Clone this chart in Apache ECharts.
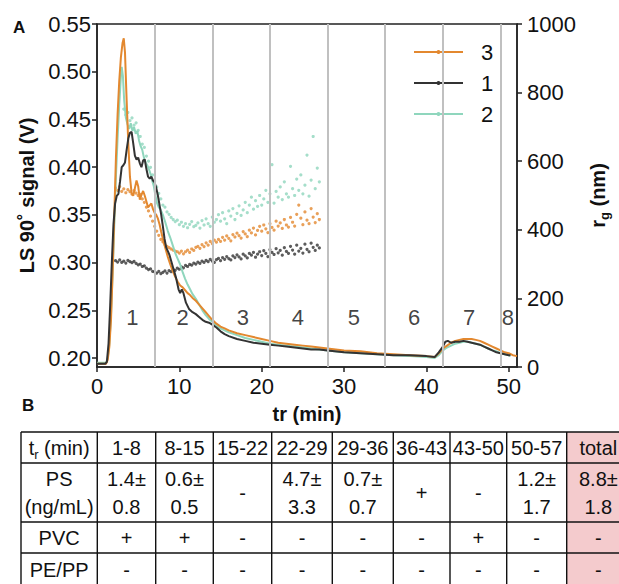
<!DOCTYPE html>
<html><head><meta charset="utf-8">
<script src="https://cdn.jsdelivr.net/npm/echarts@6/dist/echarts.min.js"></script>
<style>html,body{margin:0;padding:0;background:#fff}#c{width:619px;height:584px}</style>
</head><body><div id="c"></div>
<script>
// ---------- data ----------
const xTicks = [0, 10, 20, 30, 40, 50];
const leftTicks = [0.20, 0.25, 0.30, 0.35, 0.40, 0.45, 0.50, 0.55];
const rightTicks = [0, 200, 400, 600, 800, 1000];
const fractionBounds = [7, 14, 21, 28, 35, 42, 49];
const fractionNames = ['1', '2', '3', '4', '5', '6', '7', '8'];
const fractionLabelX = [4.3, 10.4, 17.7, 24.4, 31.2, 38.5, 45.2, 49.9];
const fractionLabelY = 0.242;
const legendOrder = ['3', '1', '2'];

// LS 90° signal (V) for samples 1, 2, 3: [tr, V]
const ls1 = [[0,0.194],[1.0,0.194],[1.2,0.196],[1.4,0.215],[1.6,0.255],[1.8,0.30],[2.0,0.34],[2.2,0.362],[2.4,0.37],[2.6,0.372],[2.8,0.385],[3.0,0.40],[3.2,0.402],[3.4,0.405],[3.6,0.418],[3.8,0.43],[4.0,0.436],[4.2,0.437],[4.4,0.425],[4.6,0.412],[4.8,0.408],[5.0,0.41],[5.2,0.404],[5.4,0.40],[5.6,0.407],[5.8,0.408],[6.0,0.398],[6.2,0.39],[6.4,0.388],[6.6,0.39],[6.8,0.386],[7.0,0.384],[7.2,0.378],[7.4,0.37],[7.6,0.36],[7.8,0.35],[8.0,0.338],[8.2,0.325],[8.4,0.316],[8.6,0.312],[8.8,0.308],[9.0,0.302],[9.2,0.296],[9.4,0.29],[9.6,0.284],[9.9,0.272],[10.1,0.268],[10.3,0.272],[10.5,0.268],[10.8,0.258],[11.2,0.251],[11.6,0.248],[12.0,0.246],[12.4,0.243],[12.8,0.24],[13.2,0.238],[13.6,0.237],[14.0,0.235],[14.5,0.232],[15,0.228],[15.5,0.225],[16,0.223],[17,0.22],[18,0.218],[19,0.216],[20,0.215],[21,0.214],[22,0.213],[23,0.212],[24,0.211],[25,0.21],[26,0.209],[27,0.209],[28,0.208],[30,0.206],[32,0.205],[34,0.204],[36,0.203],[38,0.203],[40,0.202],[41,0.201],[41.5,0.206],[42,0.212],[42.3,0.217],[42.6,0.218],[43,0.216],[43.5,0.217],[44,0.217],[44.5,0.218],[45,0.217],[45.5,0.216],[46,0.215],[46.5,0.214],[47,0.212],[47.5,0.21],[48,0.208],[48.5,0.206],[49,0.205],[49.5,0.204],[50,0.203],[50.2,0.203]];
const ls2 = [[0,0.195],[1.1,0.195],[1.3,0.2],[1.5,0.215],[1.7,0.245],[1.9,0.29],[2.1,0.34],[2.3,0.39],[2.5,0.43],[2.7,0.465],[2.9,0.495],[3.0,0.505],[3.15,0.495],[3.3,0.47],[3.5,0.452],[3.7,0.445],[3.9,0.44],[4.1,0.446],[4.3,0.438],[4.5,0.442],[4.7,0.435],[4.9,0.438],[5.1,0.428],[5.3,0.422],[5.5,0.418],[5.7,0.41],[5.9,0.405],[6.1,0.402],[6.3,0.398],[6.5,0.393],[6.7,0.386],[6.9,0.38],[7.1,0.37],[7.3,0.362],[7.5,0.358],[7.7,0.356],[8.0,0.35],[8.3,0.342],[8.6,0.333],[8.9,0.326],[9.2,0.318],[9.5,0.31],[9.8,0.304],[10.1,0.298],[10.4,0.29],[10.7,0.283],[11.0,0.277],[11.3,0.272],[11.6,0.267],[12.0,0.262],[12.4,0.256],[12.8,0.25],[13.2,0.245],[13.6,0.241],[14.0,0.238],[14.5,0.234],[15,0.231],[15.5,0.229],[16,0.227],[17,0.224],[18,0.221],[19,0.219],[20,0.217],[21,0.215],[22,0.214],[23,0.213],[24,0.212],[25,0.211],[26,0.21],[27,0.209],[28,0.208],[30,0.206],[32,0.205],[34,0.204],[36,0.203],[38,0.202],[40,0.201],[41,0.2],[41.5,0.203],[42,0.208],[42.5,0.211],[43,0.213],[43.5,0.215],[44,0.216],[44.5,0.217],[45,0.217],[45.5,0.216],[46,0.215],[46.5,0.214],[47,0.212],[47.5,0.21],[48,0.208],[48.5,0.207],[49,0.205],[49.5,0.204],[50,0.203],[50.2,0.202]];
const ls3 = [[0,0.194],[1.1,0.194],[1.3,0.198],[1.5,0.212],[1.7,0.24],[1.9,0.29],[2.1,0.35],[2.3,0.41],[2.5,0.455],[2.7,0.49],[2.9,0.515],[3.1,0.53],[3.25,0.535],[3.4,0.52],[3.6,0.47],[3.8,0.425],[4.0,0.39],[4.2,0.373],[4.4,0.37],[4.6,0.378],[4.8,0.386],[5.0,0.38],[5.2,0.366],[5.4,0.371],[5.6,0.375],[5.8,0.37],[6.0,0.364],[6.2,0.358],[6.4,0.36],[6.6,0.362],[6.8,0.356],[7.0,0.352],[7.2,0.35],[7.4,0.346],[7.6,0.34],[7.8,0.332],[8.0,0.325],[8.3,0.315],[8.6,0.306],[8.9,0.298],[9.2,0.291],[9.5,0.285],[9.8,0.28],[10.1,0.276],[10.4,0.274],[10.7,0.271],[11.0,0.268],[11.3,0.266],[11.6,0.263],[12.0,0.26],[12.4,0.256],[12.8,0.252],[13.2,0.248],[13.6,0.244],[14.0,0.24],[14.5,0.236],[15,0.233],[15.5,0.231],[16,0.229],[17,0.226],[18,0.224],[19,0.222],[20,0.22],[21,0.218],[22,0.216],[23,0.215],[24,0.214],[25,0.213],[26,0.212],[27,0.211],[28,0.21],[30,0.208],[32,0.207],[34,0.205],[36,0.204],[38,0.203],[40,0.202],[41,0.201],[41.5,0.205],[42,0.21],[42.5,0.213],[43,0.216],[43.5,0.218],[44,0.219],[44.5,0.22],[45,0.22],[45.5,0.22],[46,0.219],[46.5,0.218],[47,0.216],[47.5,0.214],[48,0.212],[48.5,0.21],[49,0.208],[49.5,0.206],[50,0.205],[50.5,0.203],[51,0.202]];

// radius of gyration r_g (nm), sampled at rgTime
const rgTime = [2.25,2.5,2.75,3,3.25,3.5,3.75,4,4.25,4.5,
  4.75,5,5.25,5.5,5.75,6,6.25,6.5,6.75,7,
  7.25,7.5,7.75,8,8.25,8.5,8.75,9,9.25,9.5,
  9.75,10,10.25,10.5,10.75,11,11.25,11.5,11.75,12,
  12.25,12.5,12.75,13,13.25,13.5,13.75,14,14.25,14.5,
  14.75,15,15.25,15.5,15.75,16,16.25,16.5,16.75,17,
  17.25,17.5,17.75,18,18.25,18.5,18.75,19,19.25,19.5,
  19.75,20,20.25,20.5,20.75,21,21.25,21.5,21.75,22,
  22.25,22.5,22.75,23,23.25,23.5,23.75,24,24.25,24.5,
  24.75,25,25.25,25.5,25.75,26,26.25,26.5,26.75,27];
const rg1 = [310,306,312,305,309,303,311,307,304,308,
  302,298,300,293,295,288,284,286,279,277,
  274,279,272,276,280,274,281,278,284,282,
  288,285,292,289,296,293,299,297,303,300,
  306,302,309,305,311,307,314,309,305,313,
  317,310,319,314,322,316,312,324,319,327,
  321,315,329,324,318,331,326,334,320,329,
  336,325,339,331,322,342,334,328,345,333,
  340,326,348,337,331,352,341,329,355,338,
  346,332,358,343,336,361,349,340,355,347];
const rg2 = [null,null,null,null,752,735,742,718,726,705,
  712,690,672,650,640,615,600,582,560,542,
  525,506,490,472,466,452,445,436,430,424,
  428,415,422,410,418,406,416,424,409,413,
  420,405,427,414,432,418,410,437,422,430,
  444,425,450,432,418,455,440,462,430,448,
  470,442,458,480,450,472,495,460,485,468,
  500,472,490,515,480,505,590,478,512,495,
  525,488,540,505,495,585,520,500,548,515,
  560,505,530,618,498,545,672,520,580,540];
const rg3 = [522,515,526,512,519,508,517,511,504,514,
  507,500,503,490,480,466,455,440,425,410,
  396,384,372,365,357,352,348,344,341,338,
  336,332,338,330,336,341,334,344,340,349,
  352,346,357,351,362,355,366,360,370,364,
  372,366,378,370,382,375,368,386,379,390,
  383,376,395,388,380,399,391,405,385,398,
  410,396,414,403,392,418,407,399,425,411,
  420,404,430,414,408,436,422,411,445,472,
  434,415,452,428,418,462,437,421,447,430];

// table B
const tableHeader = ['t_r (min)', '1-8', '8-15', '15-22', '22-29', '29-36', '36-43', '43-50', '50-57', 'total'];
const tablePS = ['PS\n(ng/mL)', '1.4±\n0.8', '0.6±\n0.5', '-', '4.7±\n3.3', '0.7±\n0.7', '+', '-', '1.2±\n1.7', '8.8±\n1.8'];
const tablePVC = ['PVC', '+', '+', '-', '-', '-', '-', '+', '-', '-'];
const tablePEPP = ['PE/PP', '-', '-', '-', '-', '-', '-', '-', '-', '-'];

// ---------- styling / layout ----------
const FONT = 'Liberation Sans, Arial, Helvetica, sans-serif';
const C1 = '#333333', C2 = '#8fd6bd', C3 = '#e3882f';
const AX = '#222222';
const TICKFS = 22;
const colEdges = [21, 97.3, 155.7, 213.3, 271.7, 332.3, 393.3, 450, 506.7, 566.7, 630];
const rowEdges = [432, 463, 522, 553, 586];

function pairs(t, v) { const out = []; t.forEach((x, i) => { if (v[i] != null) out.push([x, v[i]]); }); return out; }

const chart = echarts.init(document.getElementById('c'), null, { renderer: 'svg' });

// table graphics
const tableRows = [tableHeader, tablePS, tablePVC, tablePEPP];
const g = [];
g.push({ type: 'rect', shape: { x: colEdges[9], y: rowEdges[0], width: colEdges[10] - colEdges[9], height: rowEdges[4] - rowEdges[0] }, style: { fill: '#f4cbcd' }, silent: true });
rowEdges.forEach(y => g.push({ type: 'line', shape: { x1: colEdges[0], y1: y, x2: colEdges[10], y2: y }, style: { stroke: '#111', lineWidth: 1.4 }, silent: true }));
colEdges.forEach(x => g.push({ type: 'line', shape: { x1: x, y1: rowEdges[0], x2: x, y2: rowEdges[4] }, style: { stroke: '#111', lineWidth: 1.4 }, silent: true }));
tableRows.forEach((row, r) => {
  row.forEach((txt, c) => {
    const cx = (colEdges[c] + colEdges[c + 1]) / 2;
    const cy = (rowEdges[r] + rowEdges[r + 1]) / 2;
    let style = { text: txt, x: cx, y: cy, align: 'center', verticalAlign: 'middle', font: '20px ' + FONT, fill: '#111', lineHeight: 28 };
    if (txt.indexOf('_') >= 0) {
      const parts = txt.split('_');
      style.text = '{a|' + parts[0] + '}{s|' + parts[1].charAt(0) + '}{a|' + parts[1].slice(1) + '}';
      style.rich = { a: { fontSize: 20, fontFamily: FONT, lineHeight: 26, fill: '#111' }, s: { fontSize: 13, fontFamily: FONT, lineHeight: 14, verticalAlign: 'bottom', fill: '#111' } };
    }
    g.push({ type: 'text', style: style, silent: true });
  });
});
g.push({ type: 'text', style: { text: 'A', x: 13, y: 19, font: 'bold 17px ' + FONT, fill: '#111' } });
g.push({ type: 'text', style: { text: 'B', x: 22, y: 397, font: 'bold 17px ' + FONT, fill: '#111' } });

const option = {
  animation: false,
  backgroundColor: '#fff',
  textStyle: { fontFamily: FONT },
  grid: { left: 97, right: 94, top: 24, bottom: 217, show: true, borderColor: AX, borderWidth: 1.5, backgroundColor: 'transparent' },
  legend: {
    data: legendOrder, orient: 'vertical', left: 413, top: 41, padding: 0, itemWidth: 49, itemHeight: 5, itemGap: 9,
    textStyle: { fontSize: 22, color: '#111', fontFamily: FONT, padding: [0, 0, 0, 13] }
  },
  xAxis: {
    type: 'value', min: 0, max: 51, interval: 10,
    name: 'tr (min)', nameLocation: 'middle', nameGap: 37,
    nameTextStyle: { fontSize: 20, fontWeight: 'bold', color: '#111', fontFamily: FONT },
    axisLine: { show: true, onZero: false, lineStyle: { color: AX, width: 1.5 } },
    axisTick: { show: true, length: 5, customValues: xTicks, lineStyle: { color: AX, width: 1.5 } },
    axisLabel: { customValues: xTicks, fontSize: TICKFS, color: '#111', margin: 8, fontFamily: FONT },
    splitLine: { show: false }
  },
  yAxis: [{
    type: 'value', min: 0.1906, max: 0.55, position: 'left',
    name: 'LS 90˚ signal (V)', nameLocation: 'middle', nameGap: 60, nameRotate: 90,
    nameTextStyle: { fontSize: 20, fontWeight: 'bold', color: '#111', fontFamily: FONT },
    axisLine: { show: true, lineStyle: { color: AX, width: 1.5 } },
    axisTick: { show: true, length: 5, customValues: leftTicks, lineStyle: { color: AX, width: 1.5 } },
    axisLabel: { customValues: leftTicks, formatter: v => v.toFixed(2), fontSize: TICKFS, color: '#111', margin: 6, fontFamily: FONT },
    splitLine: { show: false }
  }, {
    type: 'value', min: 0, max: 1000, interval: 200, position: 'right',
    name: '{r|r}{s|g}{r| (nm)}', nameLocation: 'middle', nameGap: 68, nameRotate: 90,
    nameTextStyle: { color: '#111', rich: {
      r: { fontSize: 20, fontWeight: 'bold', fontFamily: FONT, lineHeight: 26, color: '#111' },
      s: { fontSize: 13, fontWeight: 'bold', fontFamily: FONT, lineHeight: 14, verticalAlign: 'bottom', color: '#111' } } },
    axisLine: { show: true, lineStyle: { color: AX, width: 1.5 } },
    axisTick: { show: true, length: 5, customValues: rightTicks, lineStyle: { color: AX, width: 1.5 } },
    axisLabel: { customValues: rightTicks, formatter: v => String(v), fontSize: TICKFS, color: '#111', margin: 10, fontFamily: FONT },
    splitLine: { show: false }
  }],
  series: [
    { type: 'line', name: 'bounds', data: [], z: 1, silent: true,
      markLine: { silent: true, symbol: 'none', label: { show: false },
        lineStyle: { color: '#c0c0c0', width: 2, type: 'solid' },
        data: fractionBounds.map(v => ({ xAxis: v })) } },
    { type: 'scatter', name: 'rg 2', yAxisIndex: 1, data: pairs(rgTime, rg2), symbolSize: 3.2, itemStyle: { color: C2 }, z: 2 },
    { type: 'scatter', name: 'rg 3', yAxisIndex: 1, data: pairs(rgTime, rg3), symbolSize: 3.2, itemStyle: { color: C3 }, z: 2 },
    { type: 'scatter', name: 'rg 1', yAxisIndex: 1, data: pairs(rgTime, rg1), symbolSize: 3.2, itemStyle: { color: C1 }, z: 2 },
    { type: 'line', name: '2', yAxisIndex: 0, data: ls2, showSymbol: false, symbol: 'circle', symbolSize: 3, lineStyle: { color: C2, width: 2 }, itemStyle: { color: C2 }, z: 3 },
    { type: 'line', name: '3', yAxisIndex: 0, data: ls3, showSymbol: false, symbol: 'circle', symbolSize: 3, lineStyle: { color: C3, width: 2 }, itemStyle: { color: C3 }, z: 3 },
    { type: 'line', name: '1', yAxisIndex: 0, data: ls1, showSymbol: false, symbol: 'circle', symbolSize: 3, lineStyle: { color: C1, width: 2 }, itemStyle: { color: C1 }, z: 3 },
    { type: 'scatter', name: 'fractions', yAxisIndex: 0, symbolSize: 0, silent: true, z: 4,
      data: fractionLabelX.map((x, i) => ({ value: [x, fractionLabelY], name: fractionNames[i] })),
      label: { show: true, position: 'inside', formatter: '{b}', fontSize: 22, color: '#111', fontFamily: FONT } }
  ],
  graphic: g
};
chart.setOption(option);
</script></body></html>
